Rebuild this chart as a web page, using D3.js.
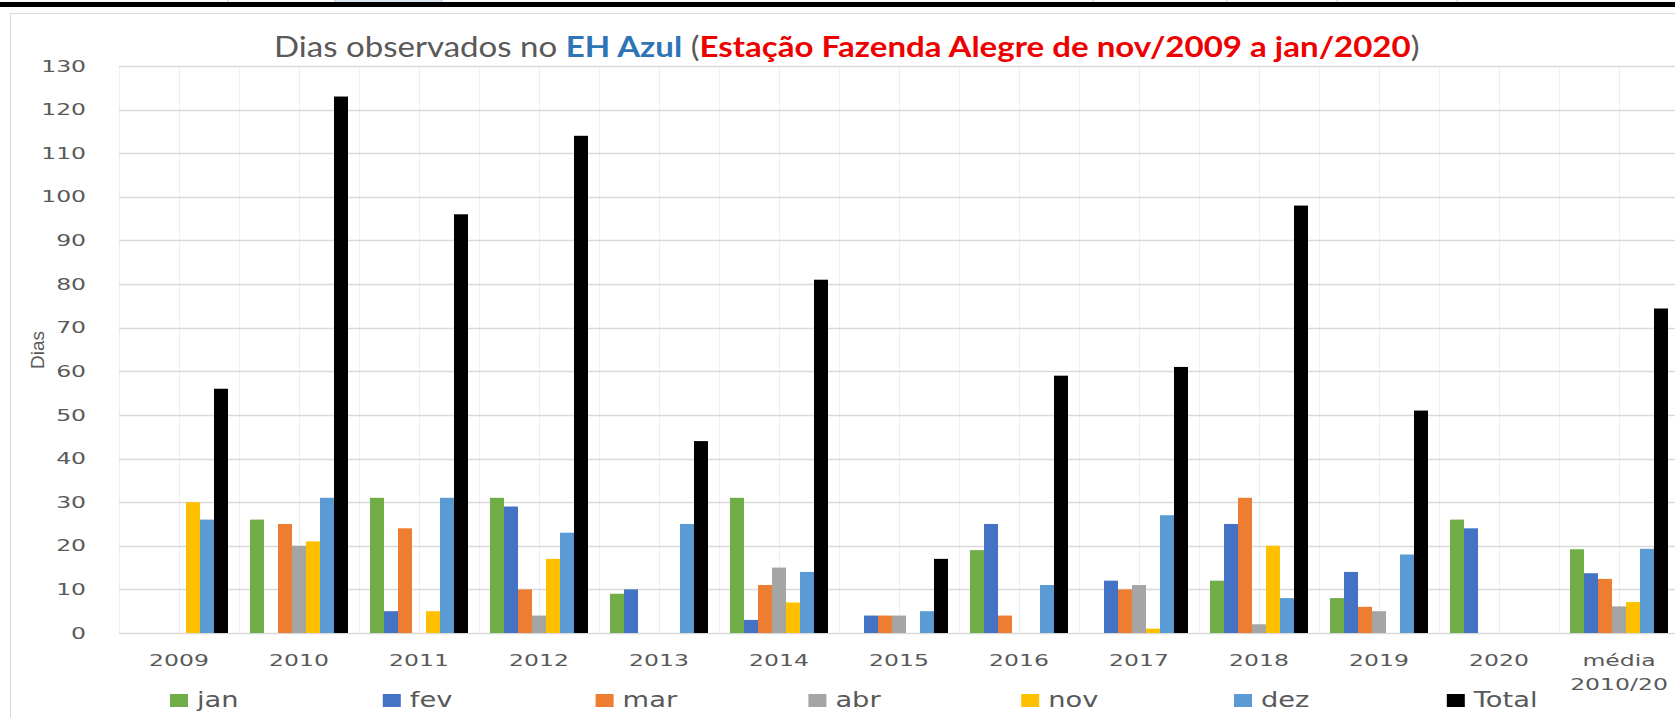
<!DOCTYPE html>
<html>
<head>
<meta charset="utf-8">
<script src="https://cdn.jsdelivr.net/npm/d3@7"></script>
<style>
  body { margin: 0; background: #fff; overflow: hidden; }
  .tick text { font-family: "DejaVu Sans", sans-serif; fill: #595959; }
</style>
</head>
<body>
<div id="chart"></div>
<script>
// categories and series
var categories = ["2009", "2010", "2011", "2012", "2013", "2014", "2015", "2016", "2017", "2018", "2019", "2020", "média\n2010/20"];
var series = ["jan", "fev", "mar", "abr", "nov", "dez", "Total"];
var colors = ["#70ad47", "#4472c4", "#ed7d31", "#a5a5a5", "#ffc000", "#5b9bd5", "#000000"];

// days observed per month, one value per category
var jan   = [0, 26, 31, 31, 9, 31, 0, 19, 0, 12, 8, 26, 19.2];
var fev   = [0, 0, 5, 29, 10, 3, 4, 25, 12, 25, 14, 24, 13.7];
var mar   = [0, 25, 24, 10, 0, 11, 4, 4, 10, 31, 6, 0, 12.4];
var abr   = [0, 20, 0, 4, 0, 15, 4, 0, 11, 2, 5, 0, 6.1];
var nov   = [30, 21, 5, 17, 0, 7, 0, 0, 1, 20, 0, 0, 7.1];
var dez   = [26, 31, 31, 23, 25, 14, 5, 11, 27, 8, 18, 0, 19.3];
var total = [56, 123, 96, 114, 44, 81, 17, 59, 61, 98, 51, 0, 74.4];

var yTicks = [0, 10, 20, 30, 40, 50, 60, 70, 80, 90, 100, 110, 120, 130];

var seriesValues = [jan, fev, mar, abr, nov, dez, total];

var data = categories.map(function(c, i) {
  return {
    cat: c,
    values: series.map(function(s, j) { return {key: s, value: seriesValues[j][i]}; })
  };
});

// set the dimensions of the page and the plot
var W = 1675, H = 718;
var margin = {top: 66, left: 119, bottom: 633},
    catStep = 120,
    plotRight = margin.left + catStep * categories.length;

var svg = d3.select("#chart")
  .append("svg")
    .attr("width", W)
    .attr("height", H);

// spreadsheet remains above the chart
var cellLines = [228, 335, 442, 1093, 1227, 1337, 1457];
svg.append("rect").attr("x", 335).attr("y", 0).attr("width", 107).attr("height", 3).attr("fill", "#dce6f1");
svg.selectAll(".cell")
  .data(cellLines)
  .enter().append("line")
    .attr("x1", function(d) { return d; }).attr("x2", function(d) { return d; })
    .attr("y1", 0).attr("y2", 3)
    .attr("stroke", "#c8c8c8");
svg.append("rect").attr("x", 0).attr("y", 2).attr("width", W).attr("height", 5).attr("fill", "#000");

// chart area border
svg.append("rect")
  .attr("x", 10.5).attr("y", 13.5)
  .attr("width", 2000).attr("height", 2000)
  .attr("fill", "#fff")
  .attr("stroke", "#d9d9d9");

// scales
var x = d3.scaleBand()
  .domain(categories)
  .range([margin.left, plotRight]);

var xSub = d3.scaleBand()
  .domain(series)
  .range([0, x.bandwidth()])
  .paddingOuter(0.786);

var y = d3.scaleLinear()
  .domain([0, 130])
  .range([margin.bottom, margin.top]);

var color = d3.scaleOrdinal().domain(series).range(colors);

// vertical gridlines, every half category
var vLines = [];
categories.forEach(function(c) {
  vLines.push(x(c));
  vLines.push(x(c) + x.bandwidth() / 2);
});
svg.append("g")
  .selectAll("line")
  .data(vLines)
  .enter().append("line")
    .attr("x1", function(d) { return d + 0.5; })
    .attr("x2", function(d) { return d + 0.5; })
    .attr("y1", y(130))
    .attr("y2", y(0))
    .attr("stroke", "#efefef")
    .attr("stroke-width", 1.2);

// horizontal gridlines
svg.append("g")
  .selectAll("line")
  .data(yTicks)
  .enter().append("line")
    .attr("x1", margin.left)
    .attr("x2", plotRight)
    .attr("y1", function(d) { return Math.round(y(d)) + 0.5; })
    .attr("y2", function(d) { return Math.round(y(d)) + 0.5; })
    .attr("stroke", "#d9d9d9")
    .attr("stroke-width", 1.5);

// bars
svg.append("g")
  .selectAll("g")
  .data(data)
  .enter().append("g")
    .attr("transform", function(d) { return "translate(" + x(d.cat) + ",0)"; })
  .selectAll("rect")
  .data(function(d) { return d.values.filter(function(v) { return v.value > 0; }); })
  .enter().append("rect")
    .attr("x", function(d) { return xSub(d.key); })
    .attr("width", xSub.bandwidth())
    .attr("y", function(d) { return y(d.value); })
    .attr("height", function(d) { return y(0) - y(d.value); })
    .attr("fill", function(d) { return color(d.key); });

// Y axis
var yAxis = svg.append("g")
  .attr("transform", "translate(" + margin.left + ",0)")
  .call(d3.axisLeft(y).tickValues(yTicks).tickSize(0).tickPadding(0));
yAxis.select(".domain").remove();
yAxis.selectAll("text")
  .attr("x", -22.4)
  .attr("font-size", 16)
  .attr("transform", "scale(1.47,1)");

// X axis
var xAxis = svg.append("g")
  .attr("transform", "translate(0," + margin.bottom + ")")
  .call(d3.axisBottom(x).tickSize(0));
xAxis.select(".domain").remove();
xAxis.selectAll("text")
  .attr("font-size", 16)
  .attr("y", 33)
  .attr("dy", 0)
  .attr("transform", "scale(1.47,1)")
  .each(function(d) {
    var lines = d.split("\n");
    var t = d3.select(this).text(null);
    lines.forEach(function(l, i) {
      t.append("tspan").attr("x", 0).attr("y", 33 + i * 24).text(l);
    });
  });

// Y axis title
svg.append("text")
  .attr("transform", "translate(44,350) rotate(-90)")
  .attr("text-anchor", "middle")
  .attr("font-family", "'Liberation Sans Narrow', 'Liberation Sans', sans-serif")
  .attr("font-size", 19)
  .attr("fill", "#595959")
  .text("Dias");

// chart title
var title = svg.append("text")
  .attr("font-family", "Lato, 'Open Sans', sans-serif")
  .attr("font-size", 28)
  .attr("fill", "#595959");
title.append("tspan").text("Dias observados no ");
title.append("tspan").attr("font-weight", "bold").attr("fill", "#2e75b6").text("EH Azul");
title.append("tspan").text(" (");
title.append("tspan").attr("font-weight", "bold").attr("fill", "#ee0000").text("Estação Fazenda Alegre de nov/2009 a jan/2020");
title.append("tspan").text(")");
var tw = title.node().getComputedTextLength();
title.attr("transform", "translate(274,57) scale(" + (1146 / tw) + ",1)");

// legend
var legend = svg.append("g")
  .selectAll("g")
  .data(series)
  .enter().append("g")
    .attr("transform", function(d, i) { return "translate(" + (170 + i * 212.8) + ",694)"; });
legend.append("rect")
  .attr("width", 18)
  .attr("height", 13)
  .attr("fill", function(d) { return color(d); });
legend.append("text")
  .attr("x", 0)
  .attr("y", 13)
  .attr("font-family", "'DejaVu Sans', sans-serif")
  .attr("font-size", 21)
  .attr("fill", "#595959")
  .attr("transform", "translate(27,0) scale(1.3,1)")
  .text(function(d) { return d; });
</script>
</body>
</html>
